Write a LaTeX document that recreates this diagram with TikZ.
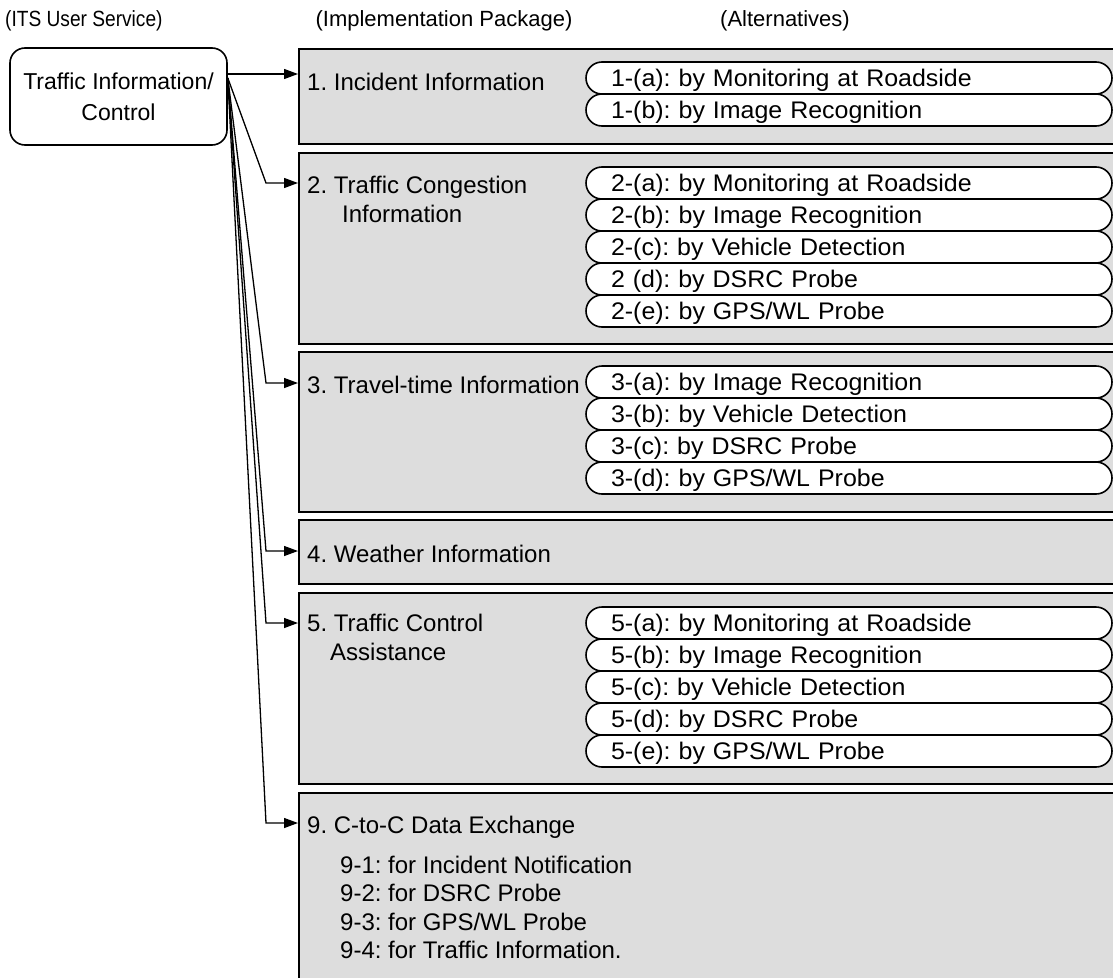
\documentclass[tikz,border=0pt]{standalone}
\usepackage{graphicx}
\usepackage{fontspec}
\setmainfont{Liberation Sans}
\newfontfamily\altfont{Liberation Sans}[FakeStretch=1.04]
\usetikzlibrary{arrows.meta,calc}
\definecolor{pkgfill}{RGB}{221,221,221}
\frenchspacing
\begin{document}
\begin{tikzpicture}[x=1pt,y=-1pt,
  every node/.style={font=\fontsize{24}{29}\selectfont, inner sep=0pt},
  pkgbox/.style={draw, line width=1.8pt, fill=pkgfill, anchor=north west, minimum width=830pt},
  pill/.style={draw, line width=1.6pt, fill=white, rounded corners=16pt,
    minimum width=526pt, minimum height=32pt, text width=476pt,
    inner xsep=25pt, inner ysep=0pt, align=left, text height=17pt, text depth=0pt,
    font=\altfont\fontsize{24}{29}\selectfont},
  ttl/.style={anchor=west, text height=17pt, text depth=0pt},
  hdr/.style={font=\fontsize{22}{26}\selectfont, text height=16pt, text depth=0pt},
  arr/.style={line width=1.3pt, -{Triangle[length=14pt,width=10pt]}},
]
\path[use as bounding box] (0,0) rectangle (1113,977);
\clip (0,0) rectangle (1113,977);

% column headings
\node[hdr, anchor=west] (h1) at (5,18) {\scalebox{0.87}[1]{(ITS User Service)}};
\node[hdr] (h2) at (444,18) {(Implementation Package)};
\node[hdr] (h3) at (785,18) {(Alternatives)};

% user service
\node[draw, line width=1.6pt, rounded corners=15pt, minimum width=217pt,
  minimum height=97pt, align=center, font=\fontsize{23}{31}\selectfont]
  (svc) at (118.5,96.5) {Traffic Information/\\Control};

% implementation packages
\node[pkgbox, minimum height=95pt]  (b1) at (298,48)  {};
\node[pkgbox, minimum height=191pt] (b2) at (298,152) {};
\node[pkgbox, minimum height=160pt] (b3) at (298,351) {};
\node[pkgbox, minimum height=64pt]  (b4) at (298,519) {};
\node[pkgbox, minimum height=191pt] (b5) at (298,592) {};
\node[pkgbox, minimum height=200pt] (b9) at (298,792) {};

% package titles
\node[ttl] (t1)  at (307,82)  {1. Incident Information};
\node[ttl] (t2)  at (307,185) {2. Traffic Congestion};
\node[ttl] (t2b) at (342,214) {Information};
\node[ttl] (t3)  at (307,385) {3. Travel-time Information};
\node[ttl] (t4)  at (307,554) {4. Weather Information};
\node[ttl] (t5)  at (307,623) {5. Traffic Control};
\node[ttl] (t5b) at (330,652) {Assistance};
\node[ttl] (t9)  at (307,825) {9. C-to-C Data Exchange};
\node[ttl] (t91) at (340,864.5) {9-1: for Incident Notification};
\node[ttl] (t92) at (340,893)   {9-2: for DSRC Probe};
\node[ttl] (t93) at (340,921.5) {9-3: for GPS/WL Probe};
\node[ttl] (t94) at (340,950)   {9-4: for Traffic Information.};

% alternatives
\node[pill] (a1a) at (849,78)  {1-(a): by Monitoring at Roadside};
\node[pill] (a1b) at (849,110) {1-(b): by Image Recognition};

\node[pill] (a2a) at (849,183) {2-(a): by Monitoring at Roadside};
\node[pill] (a2b) at (849,215) {2-(b): by Image Recognition};
\node[pill] (a2c) at (849,247) {2-(c): by Vehicle Detection};
\node[pill] (a2d) at (849,279) {2 (d): by DSRC Probe};
\node[pill] (a2e) at (849,311) {2-(e): by GPS/WL Probe};

\node[pill] (a3a) at (849,382) {3-(a): by Image Recognition};
\node[pill] (a3b) at (849,414) {3-(b): by Vehicle Detection};
\node[pill] (a3c) at (849,446) {3-(c): by DSRC Probe};
\node[pill] (a3d) at (849,478) {3-(d): by GPS/WL Probe};

\node[pill] (a5a) at (849,623) {5-(a): by Monitoring at Roadside};
\node[pill] (a5b) at (849,655) {5-(b): by Image Recognition};
\node[pill] (a5c) at (849,687) {5-(c): by Vehicle Detection};
\node[pill] (a5d) at (849,719) {5-(d): by DSRC Probe};
\node[pill] (a5e) at (849,751) {5-(e): by GPS/WL Probe};

% connectors from the user service to each package
\coordinate (fan) at (svc.east |- 0,78);
\coordinate (in1) at (b1.west |- 0,74);
\coordinate (in2) at (b2.west |- 0,183);
\coordinate (in3) at (b3.west |- 0,383);
\coordinate (in4) at (b4.west |- 0,551);
\coordinate (in5) at (b5.west |- 0,623);
\coordinate (in9) at (b9.west |- 0,823);

\draw[arr] (svc.east |- in1) -- (in1);
\foreach \k in {2,3,4,5,9}
  \draw[arr] (fan) -- ($(in\k)+(-32,0)$) -- (in\k);
\end{tikzpicture}
\end{document}
